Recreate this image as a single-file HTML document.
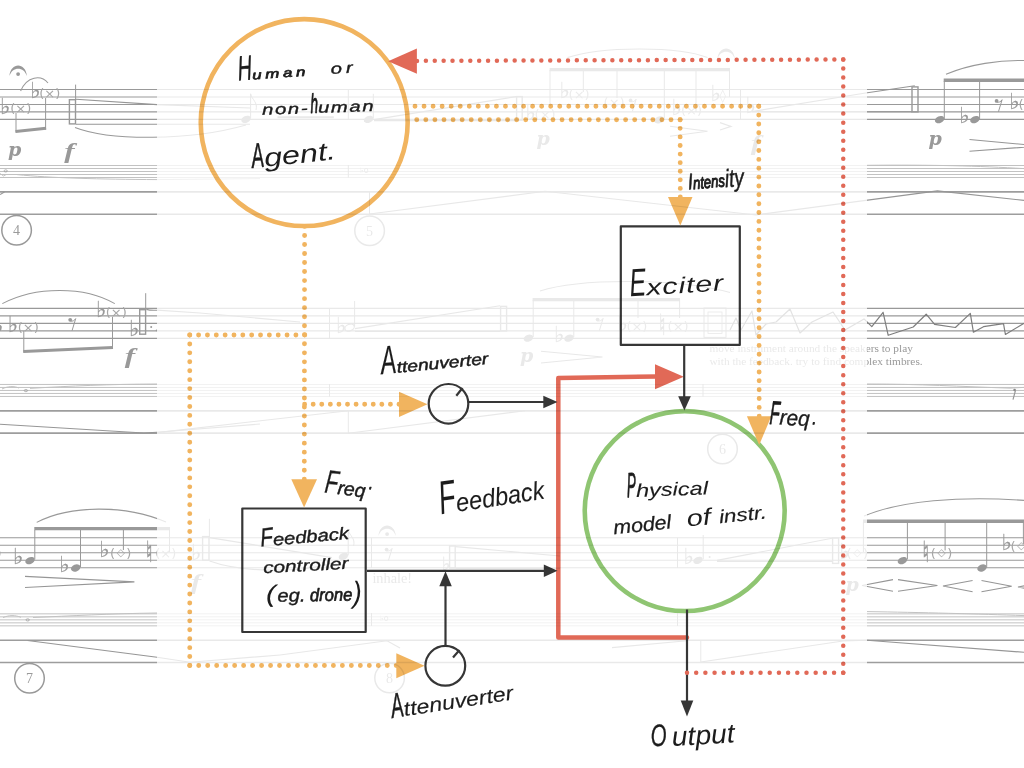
<!DOCTYPE html>
<html lang="en">
<head>
<meta charset="utf-8">
<title>Feedback instrument diagram</title>
<style>
html,body{margin:0;padding:0;background:#fff;}
body{width:1024px;height:768px;overflow:hidden;position:relative;font-family:"Liberation Sans",sans-serif;}
svg{position:absolute;left:0;top:0;display:block;will-change:transform;}
.st{stroke:#999;stroke-width:1.1;fill:none;}
.sm{stroke:#c2c2c2;stroke-width:1;fill:none;}
.ln{stroke:#9d9d9d;stroke-width:1.6;fill:none;}
.thin{stroke:#969696;stroke-width:1.15;fill:none;}
.slur{stroke:#999;stroke-width:1.05;fill:none;}
.stem{stroke:#999;stroke-width:1;fill:none;}
.beam{stroke:#999;stroke-width:3;fill:none;}
.nh{fill:#999;}
.dyn{font-family:"DejaVu Serif","Liberation Serif",serif;font-style:italic;font-weight:bold;font-size:19px;fill:#999;}
.dynf{font-family:"Liberation Serif",serif;font-style:italic;font-weight:bold;font-size:21.5px;fill:#999;}
.acc{font-family:"DejaVu Sans",sans-serif;font-size:22px;fill:#999;stroke:#999;stroke-width:0.25;}
.nat{font-family:"DejaVu Sans",sans-serif;font-size:29px;fill:#999;stroke:#999;stroke-width:0.5;}
.fer{fill:#999;stroke:none;}
.par{font-family:"DejaVu Sans",sans-serif;font-size:13px;fill:#a6a6a6;}
.num{font-family:"Liberation Serif",serif;font-size:14px;fill:#9a9a9a;text-anchor:middle;}
.txt{font-family:"Liberation Serif",serif;font-size:11.35px;fill:#999;}
.hw{font-family:"Liberation Sans",sans-serif;font-style:italic;fill:#1c1c1c;stroke:#1c1c1c;stroke-width:0.15;stroke-linejoin:round;}
.blk{stroke:#363636;stroke-width:2.2;fill:none;stroke-linejoin:round;}
.od{stroke:#f1b45f;stroke-width:4.9;stroke-linecap:round;fill:none;}
.of{fill:#f1b45f;}
.rd{stroke:#e16957;stroke-width:4.5;stroke-linecap:round;fill:none;}
.rf{fill:#e16957;}
</style>
</head>
<body>
<svg id="score" width="1024" height="768" viewBox="0 0 1024 768">
<path class="st" d="M0 89.45 H1024M0 96.94 H1024M0 104.43 H1024M0 111.92 H1024M0 119.41 H1024"/>
<path class="st" d="M0 308.40 H1024M0 315.89 H1024M0 323.38 H1024M0 330.87 H1024M0 338.36 H1024"/>
<path class="st" d="M0 537.80 H1024M0 545.29 H1024M0 552.78 H1024M0 560.27 H1024M0 567.76 H1024"/>
<path class="sm" d="M0 165.50 H1024M0 168.50 H1024M0 171.50 H1024M0 174.50 H1024M0 177.50 H1024"/>
<path class="sm" d="M0 384.45 H1024M0 387.45 H1024M0 390.45 H1024M0 393.45 H1024M0 396.45 H1024"/>
<path class="sm" d="M0 613.85 H1024M0 616.85 H1024M0 619.85 H1024M0 622.85 H1024M0 625.85 H1024"/>
<path class="ln" d="M0 191.90H1024M0 214.20H1024M0 410.85H1024M0 433.15H1024M0 640.25H1024M0 662.55H1024"/>
<!-- ===== left strip, system 1 ===== -->
<path class="fer" d="M9.4 76.0 C10.6 62.0 25.7 62.0 26.9 76.0 C24.0 66.2 12.3 66.2 9.4 76.0Z"/>
<circle class="nh" cx="18.1" cy="74.1" r="1.9"/>
<path class="slur" d="M20.6 91 C27 76 41 74.5 48 83"/>
<text class="acc" x="0" y="113.5">♭</text><text class="par" x="10.3" y="113.0">(×)</text>
<text class="acc" x="30.3" y="97.6">♭</text><text class="par" x="39.3" y="97.8">(×)</text>
<path class="stem" d="M16 113 V132.5M45.6 98 V129.5"/>
<path class="beam" d="M15.5 131.6 L46.1 128.2"/>
<rect x="69.4" y="99.7" width="6.1" height="24.2" fill="none" stroke="#999" stroke-width="1.4"/>
<path class="stem" d="M75.6 84.6 V100"/>
<path class="thin" d="M76 99.2 L157 104.6 L250 108 M76 124.2 H250"/>
<path class="slur" d="M75 127.4 C110 141 190 141 246 125"/>
<text class="dyn" x="8" y="155.6">p</text>
<text class="dynf" transform="translate(64.2 157.6) scale(1.45 1)">f</text>
<ellipse cx="5.7" cy="170.9" rx="1.6" ry="1.1" fill="none" stroke="#999" stroke-width="0.7"/>
<path class="sm" d="M0 173.5 L3.5 176 L6 174.6 M17 174.6 C50 178 100 179.3 157 179.6 L260 178.6"/>
<path class="thin" d="M0 194.6 L4.5 191.9"/>
<circle cx="16.6" cy="230.2" r="14.8" fill="none" stroke="#999" stroke-width="1.5"/>
<text class="num" x="16.4" y="235">4</text>
<!-- ===== left strip, system 2 ===== -->
<path class="slur" d="M2.3 303.6 C35 286 85 286 114.8 303.6"/>
<text class="acc" x="-7" y="332.6">♭</text>
<text class="acc" x="7.8" y="331.6">♭</text><text class="par" x="17.7" y="331.6">(×)</text>
<path class="stem" d="M23.8 331 V352.5M112.5 316.8 V348.6"/>
<path class="beam" d="M23.3 351.4 L113 347.4"/>
<circle class="nh" cx="70.2" cy="319.8" r="1.9"/>
<path class="stem" d="M70.5 321 C72.5 321.6 74.5 320.6 75.7 318.6 L72 330.8"/>
<text class="acc" x="96" y="316.6">♭</text><text class="par" x="105.8" y="316.6">(×)</text>
<text class="acc" x="128.9" y="335.6">♭</text>
<rect x="139.7" y="309.7" width="5.9" height="24.5" fill="none" stroke="#999" stroke-width="1.4"/>
<path class="stem" d="M145.7 293.2 V310"/>
<circle class="nh" cx="151.2" cy="326.9" r="1"/><circle class="nh" cx="156.6" cy="330.4" r="0.9"/>
<path class="thin" d="M146.4 309.4 C150 310.5 153 310.4 157 310.2 L200 313 L300 322"/>
<text class="dynf" transform="translate(124.8 363.1) scale(1.45 1)">f</text>
<ellipse cx="25.9" cy="390.6" rx="1.7" ry="1.1" fill="none" stroke="#999" stroke-width="0.7"/>
<path class="sm" d="M2 389 C8 386 14 386 19 388 M30 388.4 C70 386 110 384.2 157 384"/>
<path class="thin" d="M0 424.2 L143.8 433 L157 432.2 L260 424"/>
<!-- ===== left strip, system 3 ===== -->
<path class="slur" d="M36.7 522.4 C70 505 125 504.5 166 522"/>
<path class="beam" style="stroke-width:3.4" d="M34.3 528.6 H170"/>
<path class="stem" d="M34.8 530 V559.5M80.5 530 V567M123.4 530 V550M169.5 530 V552"/>
<text class="acc" x="13" y="564">♭</text>
<ellipse class="nh" cx="30" cy="560.6" rx="4.9" ry="3.4" transform="rotate(-22 30 560.6)"/>
<text class="acc" x="59.3" y="571.6">♭</text>
<ellipse class="nh" cx="75.7" cy="568" rx="4.9" ry="3.4" transform="rotate(-22 75.7 568)"/>
<text class="acc" x="99.3" y="557">♭</text><text class="par" x="110" y="558.4">(<tspan font-size="10.5" dx="1.6" dy="-2.2">◇</tspan><tspan dx="1.6" dy="2.2">)</tspan></text>
<text class="nat" x="146" y="562.0" textLength="6.6" lengthAdjust="spacingAndGlyphs">♮</text><text class="par" x="155.3" y="558.4">(×)</text>
<text class="par" x="-3.6" y="558.4">)</text>
<path class="thin" d="M25 576.4 L134.4 581.9 L25 587.5"/>
<ellipse cx="27.7" cy="619.9" rx="1.7" ry="1.1" fill="none" stroke="#999" stroke-width="0.7"/>
<path class="sm" d="M3 617.6 C9 615 15 615 21 617.3 M33 617.5 C70 616 110 613.6 157 613"/>
<path class="thin" d="M27.5 640.5 L157 657.3 L190 662.2 L280 655"/>
<circle cx="29.5" cy="678.3" r="14.8" fill="none" stroke="#999" stroke-width="1.5"/>
<text class="num" x="29.5" y="683.1">7</text>
<!-- ===== middle (veiled) region, system 1 ===== -->
<ellipse class="nh" cx="246" cy="119.4" rx="4.9" ry="3.4" transform="rotate(-22 246 119.4)"/>
<path class="stem" d="M250.6 93.8 V118.5 M250.6 93.8 C252 100 258 102 256 110"/>
<path class="beam" style="stroke-width:2" d="M277.5 117.2 H333.8"/>
<path class="stem" d="M348.3 89.5 V119.4 M348.3 165 V177.5 M369.5 191.7 V214"/>
<ellipse class="nh" cx="368.6" cy="119.4" rx="4.9" ry="3.4" transform="rotate(-22 368.6 119.4)"/>
<path class="stem" d="M373.3 93.8 V118.5"/>
<path class="thin" d="M374 119.6 L516 96.6 M374 120.6 H516 M369.5 214 L545 191.3 L756 215"/>
<text class="par" x="360" y="173" style="font-size:8px">♭o</text>
<circle cx="369.6" cy="230.8" r="14.8" fill="none" stroke="#999" stroke-width="1.5"/>
<text class="num" x="369.6" y="235.6">5</text>
<rect x="516.6" y="96.6" width="5.6" height="23.6" fill="none" stroke="#999" stroke-width="1.4"/>
<text class="acc" x="525.4" y="119.6">♭</text><text class="par" x="534.6" y="119.2">(×)</text>
<path class="slur" d="M567.5 57.6 C600 46 680 46 707.5 57.6"/>
<path class="beam" style="stroke-width:3.4" d="M549.6 69.6 H730"/>
<path class="stem" d="M550 70 V106 M583.3 70 V92 M617 70 V98 M664.3 70 V119 M696 70 V112 M729.5 70 V97"/>
<text class="acc" x="559.4" y="97.6">♭</text><text class="par" x="568.6" y="98.6">(×)</text>
<text class="par" x="603.6" y="107.0">(×)</text>
<circle class="nh" cx="630.6" cy="100.4" r="1.9"/>
<path class="stem" d="M630.9 101.6 C632.9 102.2 634.9 101.2 636.1 99.2 L632.4 111.4"/>
<ellipse class="nh" cx="659" cy="119.8" rx="4.9" ry="3.4" transform="rotate(-22 659 119.8)"/>
<text class="acc" x="671.6" y="115">♭</text><text class="par" x="681" y="115.0">(×)</text>
<text class="acc" x="710.4" y="101">♭</text><text class="par" x="719.6" y="100" style="font-size:13px">◊</text>
<path class="fer" d="M717.4 59.0 C718.6 45.0 733.7 45.0 734.9 59.0 C732.0 49.2 720.3 49.2 717.4 59.0Z"/>
<path class="stem" d="M740.5 89.5 V119.4"/>
<text class="acc" x="745.6" y="112.6">♭</text>
<path class="thin" d="M670 126.3 L707.5 131.3 L670 136.3 M720 122.6 L731 126.4 L720 130"/>
<text class="dyn" x="536.4" y="145.4">p</text>
<text class="dynf" transform="translate(750.8 149.6) scale(1.45 1)">f</text>
<!-- ===== middle region, system 2 ===== -->
<path class="stem" d="M329.5 308.4 V338.4 M329.5 384 V396.6 M348.3 410.7 V433.2 M703 384 V396.6"/>
<text class="acc" x="336" y="333">♭</text>
<ellipse cx="349.6" cy="327.6" rx="4.9" ry="3.3" transform="rotate(-22 349.6 327.6)" fill="none" stroke="#999" stroke-width="1.2"/>
<path class="stem" d="M354.6 301 V326.6"/>
<path class="thin" d="M355 328.6 L500 305.8 M355 331.3 H500 M157 432.6 L348.3 410.7 M348.3 433.2 L525 410.7"/>
<rect x="500.6" y="306.4" width="6" height="24.6" fill="none" stroke="#999" stroke-width="1.4"/>
<path class="slur" d="M540 291 C580 278 680 278 730 292.6"/>
<path class="beam" style="stroke-width:3.4" d="M532.6 299.6 H680"/>
<path class="stem" d="M533.2 300 V337 M573.8 300 V337 M638 300 V318 M679.6 300 V318"/>
<ellipse class="nh" cx="528.4" cy="338.2" rx="4.9" ry="3.4" transform="rotate(-22 528.4 338.2)"/>
<text class="acc" x="554" y="341.6">♭</text>
<ellipse class="nh" cx="569" cy="338.2" rx="4.9" ry="3.4" transform="rotate(-22 569 338.2)"/>
<circle class="nh" cx="597.6" cy="319.6" r="1.9"/>
<path class="stem" d="M597.9 320.8 C599.9 321.4 601.9 320.4 603.1 318.4 L599.4 330.6"/>
<text class="acc" x="617.6" y="331">♭</text><text class="par" x="626.4" y="331.2">(×)</text>
<text class="nat" x="659" y="335.4" textLength="6.6" lengthAdjust="spacingAndGlyphs">♮</text><text class="par" x="667.6" y="331.2">(×)</text>
<rect x="704" y="308" width="22" height="29.4" fill="none" stroke="#999" stroke-width="1"/>
<rect x="708" y="312" width="14" height="21.4" fill="none" stroke="#999" stroke-width="0.8"/>
<text class="dyn" x="520" y="361.6">p</text>
<path class="thin" d="M541 351.3 L602.5 357 L541 363"/>
<circle cx="722.5" cy="449" r="14.8" fill="none" stroke="#999" stroke-width="1.5"/>
<text class="num" x="722.5" y="453.8">6</text>
<!-- ===== middle region, system 3 ===== -->
<text class="acc" x="191" y="560">♭</text>
<rect x="202.6" y="536.6" width="6.4" height="23.6" fill="none" stroke="#999" stroke-width="1.4"/>
<path class="stem" d="M209.4 518.8 V537"/>
<path class="thin" d="M209.6 537.6 L332 557.6 M209.6 561 C240 572 300 574 336 562"/>
<text class="dynf" transform="translate(190.8 589.2) scale(1.45 1)">f</text>
<ellipse class="nh" cx="343.4" cy="556.4" rx="4.9" ry="3.4" transform="rotate(-22 343.4 556.4)"/>
<path class="stem" d="M348.2 530 V555.4 M348.2 530 C349.6 536 355.6 538 353.6 546 M371.5 537.8 V567.8 M371.5 613 V626 M677.5 537.8 V567.8 M677.5 613 V626 M700.8 640.3 V662.5"/>
<path class="fer" d="M378.4 536.0 C379.6 522.0 394.7 522.0 395.9 536.0 C393.0 526.2 381.3 526.2 378.4 536.0Z"/>
<circle class="nh" cx="387.1" cy="534.1" r="1.9"/>
<circle class="nh" cx="386.6" cy="549.6" r="1.9"/>
<path class="stem" d="M386.9 550.8 C388.9 551.4 390.9 550.4 392.1 548.4 L388.4 560.6"/>
<text class="txt" x="372.4" y="583" style="font-size:14.3px">inhale!</text>
<text class="acc" x="442" y="570" style="font-size:18px">♭</text>
<rect x="449.6" y="546" width="5.6" height="22" fill="none" stroke="#999" stroke-width="1.4"/>
<path class="thin" d="M455.6 546.6 L560 556 M455.6 568.4 H560"/>
<text class="par" x="380" y="620.6" style="font-size:8px">♭o</text>
<circle cx="389.6" cy="678" r="14.8" fill="none" stroke="#999" stroke-width="1.5"/>
<text class="num" x="389.6" y="682.8">8</text>
<path class="thin" d="M280 655 L387 640.8 L400 648 M612 647.6 L687 640.8 M700.8 662 L843 641 L867 640.3"/>
<text class="acc" x="683.6" y="563.6">♭</text>
<ellipse class="nh" cx="698" cy="560.4" rx="4.9" ry="3.4" transform="rotate(-22 698 560.4)"/>
<path class="stem" d="M703.2 535 V559.4"/>
<circle class="nh" cx="709.6" cy="557" r="1"/>
<path class="thin" d="M717 560.4 L832 538.2 M717 561.4 H832"/>
<rect x="832.6" y="538" width="6" height="25.4" fill="none" stroke="#999" stroke-width="1.4"/>
<text class="acc" x="839.6" y="559">♭</text>
<!-- ===== right strip, system 1 ===== -->
<path class="thin" d="M752 111.6 L864 93.2 L914.8 85.7 M752 111.7 H912"/>
<rect x="912" y="86.9" width="6" height="25" fill="none" stroke="#999" stroke-width="1.4"/>
<path class="slur" d="M946 74.3 C970 64 1000 60 1024 60.6"/>
<path class="beam" style="stroke-width:3.4" d="M943.7 80.3 H1024"/>
<path class="stem" d="M944.3 81 V119M979.6 81 V119"/>
<ellipse class="nh" cx="939.6" cy="119.6" rx="4.9" ry="3.4" transform="rotate(-22 939.6 119.6)"/>
<text class="acc" x="959.2" y="122.8">♭</text>
<ellipse class="nh" cx="974.9" cy="119.6" rx="4.9" ry="3.4" transform="rotate(-22 974.9 119.6)"/>
<circle class="nh" cx="996.6" cy="100.9" r="1.9"/>
<path class="stem" d="M996.9 102.1 C998.9 102.7 1000.9 101.7 1002.1 99.7 L998.4 111.9"/>
<text class="acc" x="1009.2" y="108.6">♭</text><text class="par" x="1018.6" y="108.6">(×)</text>
<text class="dyn" x="928.6" y="145.4">p</text>
<path class="thin" d="M969.5 139.5 L1040 146 L969.5 151.3"/>
<path class="thin" d="M756 215 L937.4 190.9 L1024 200.4"/>
<path class="sm" d="M867 165.3 C930 164.6 980 166 1024 168.6"/>
<!-- ===== right strip, system 2 ===== -->
<path d="M730 330 L736 318 L741 330 L752 311 L756 335 L766 324 L776 322 L790 309 L800 333 L812 322 L833 312 L845 330 L864 318.9 L871.8 326.7 L883.1 312.3 L888.2 335.3 L913.2 327 L926.2 314.2 L934.6 324.4 L955.4 327.5 L970.3 313.4 L973.4 332.2 L983.5 326.7 L1003.5 323.6 L1005.4 334.5 L1024 323.3" fill="none" stroke="#7e7e7e" stroke-width="1.2" stroke-linejoin="round"/>
<text class="txt" x="709.4" y="352.3">move instrument around the speakers to play</text>
<text class="txt" x="709.4" y="364.7">with the feedback. try to find complex timbres.</text>
<path class="sm" d="M867 384 C920 384 960 386.5 1010 388.2 L1024 387.4"/>
<circle class="nh" cx="1014.6" cy="390" r="1.3" style="fill:#888"/>
<path class="thin" d="M1015.6 390 L1013 399.6"/>
<!-- ===== right strip, system 3 ===== -->
<path class="slur" d="M864 516 C900 501 960 495.6 1024 500.4"/>
<path class="beam" style="stroke-width:3.4" d="M863 521.3 H1024"/>
<path class="stem" d="M863.4 522 V552M907.4 522 V559.5M945.1 522 V550.4M986.7 522 V567.5M1023.4 522 V544"/>
<text class="par" x="846.6" y="558.4">(<tspan font-size="10.5" dx="1.6" dy="-2.2">◇</tspan><tspan dx="1.6" dy="2.2">)</tspan></text>
<ellipse class="nh" cx="902.4" cy="560.6" rx="4.9" ry="3.4" transform="rotate(-22 902.4 560.6)"/>
<text class="nat" x="922.6" y="562.0" textLength="6.6" lengthAdjust="spacingAndGlyphs">♮</text><text class="par" x="930.8" y="558.4">(<tspan font-size="10.5" dx="1.6" dy="-2.2">◇</tspan><tspan dx="1.6" dy="2.2">)</tspan></text>
<ellipse class="nh" cx="982" cy="568" rx="4.9" ry="3.4" transform="rotate(-22 982 568)"/>
<text class="acc" x="1001.6" y="549.6">♭</text><text class="par" x="1010.6" y="551.0">(<tspan font-size="10.5" dx="1.6" dy="-2.2">◇</tspan><tspan dx="1.6" dy="2.2">)</tspan></text>
<text class="dyn" x="845.6" y="590.6">p</text>
<path class="thin" d="M893 579.6 L862 585.5 L893 591.3 M898 579.6 L937.4 585.5 L898 591.3 M972.6 580.5 L943 586 L972.6 591.7 M981.5 580.5 L1011.7 586.3 L981.5 591.7 M1030 584.6 L1018 587 L1030 589.4"/>
<path class="sm" d="M867 611.6 C920 612.4 980 614 1024 615.6"/>
<path class="thin" d="M867 640.3 L1024 652.3"/>

</svg>
<div id="veil" style="position:absolute;left:157px;top:0;width:710px;height:768px;background:rgba(255,255,255,0.78);"></div>
<svg id="diagram" style="mix-blend-mode:multiply" width="1024" height="768" viewBox="0 0 1024 768">
<!-- agent -->
<circle cx="304.2" cy="122.6" r="103.45" fill="none" stroke="#f1b45f" stroke-width="4.6"/>
<!-- physical model -->
<circle cx="684.7" cy="511.1" r="99.95" fill="none" stroke="#8fc572" stroke-width="4.6"/>
<!-- feedback loop (red solid) -->
<path d="M687 637.5 H558.3 V378 L657 376.4" fill="none" stroke="#e16957" stroke-width="4.5" stroke-linejoin="round" stroke-linecap="round"/>
<polygon class="rf" points="655,364.3 683.8,376.8 655,389.3"/>
<!-- boxes -->
<rect class="blk" x="620.8" y="226.4" width="119" height="118.5"/>
<rect class="blk" x="242.3" y="508.5" width="123.4" height="123.5"/>
<!-- knobs -->
<circle class="blk" cx="448.5" cy="403.8" r="19.8"/>
<path class="blk" d="M456.3 395.8 L462.5 388"/>
<circle class="blk" cx="445.3" cy="665.8" r="19.9"/>
<path class="blk" d="M453 657.5 L459.5 650"/>
<!-- signal arrows -->
<path class="blk" d="M469 402 H546"/>
<polygon fill="#363636" points="543.3,395.7 557.5,402 543.3,408.3"/>
<path class="blk" d="M367 570.8 H546"/>
<polygon fill="#363636" points="543.8,564.5 557.5,570.8 543.8,577"/>
<path class="blk" d="M445.5 645.5 V585"/>
<polygon fill="#363636" points="439.3,586.3 445.5,571.3 451.8,586.3"/>
<path class="blk" d="M684.2 346 V398"/>
<polygon fill="#363636" points="678.2,396.3 684.4,410.5 690.8,396.3"/>
<path class="blk" d="M687 609.5 V702"/>
<polygon fill="#363636" points="680.7,700.5 687,716.5 693.3,700.5"/>
<!-- dotted control connections (orange) -->
<g id="control-lines">
<path class="od" stroke-dasharray="0 9.0461" d="M415.00 106.25 L758.80 106.25"/>
<path class="od" stroke-dasharray="0 8.8572" d="M758.75 106.25 L759.20 416.30"/>
<path class="od" stroke-dasharray="0 9.0810" d="M416.75 119.75 L680.15 119.75"/>
<path class="od" stroke-dasharray="0 8.5834" d="M680.10 119.75 L680.30 197.05"/>
<path class="od" stroke-dasharray="0 9.0304" d="M304.60 226.40 L304.30 479.30"/>
<path class="od" stroke-dasharray="0 8.5818" d="M304.60 404.25 L399.05 404.25"/>
<path class="od" stroke-dasharray="0 8.8462" d="M304.75 335.00 L189.70 335.00"/>
<path class="od" stroke-dasharray="0 8.9324" d="M189.75 335.00 L189.75 665.55"/>
<path class="od" stroke-dasharray="0 8.9783" d="M189.75 665.50 L396.30 665.50"/>
<polygon class="of" points="746.9,416.2 771.3,416.2 759.2,444.9"/>
<polygon class="of" points="668,197 692.5,197 680.3,225.5"/>
<polygon class="of" points="291.3,479.3 317,479.3 304.1,507.5"/>
<polygon class="of" points="399,391.8 427.5,404.3 399,416.9"/>
<polygon class="of" points="396.3,653.3 424.5,665.8 396.3,678.3"/>
</g>
<!-- dotted output-to-agent connection (red) -->
<g id="listen-line">
<path class="rd" stroke-dasharray="0 9.1912" d="M687.00 672.75 L843.30 672.75"/>
<path class="rd" stroke-dasharray="0 9.0184" d="M843.25 672.75 L843.25 59.45"/>
<path class="rd" stroke-dasharray="0 8.8803" d="M843.25 59.50 L416.95 60.90"/>
<polygon class="rf" points="416.9,48.5 388.1,61.2 416.9,73.8"/>
</g>
<!-- handwritten labels -->
<g class="hw">
<text xml:space="preserve" transform="translate(238.5 80.5) rotate(-4.0)"><tspan font-size="35" textLength="14" lengthAdjust="spacingAndGlyphs" stroke-width="0.45">H</tspan><tspan font-size="12.5" letter-spacing="2.74" textLength="57" lengthAdjust="spacingAndGlyphs" stroke-width="0.67">uman</tspan><tspan font-size="15" letter-spacing="3.05" textLength="36" lengthAdjust="spacingAndGlyphs" stroke-width="0.38" dx="12"> or</tspan></text>
<text xml:space="preserve" transform="translate(262.3 114.8) rotate(-2.0)"><tspan font-size="15" letter-spacing="1.20" textLength="47" lengthAdjust="spacingAndGlyphs" stroke-width="0.38">non-</tspan><tspan font-size="27" textLength="7.5" lengthAdjust="spacingAndGlyphs" stroke-width="0.95" dx="1.5">h</tspan><tspan font-size="15" letter-spacing="1.17" textLength="57" lengthAdjust="spacingAndGlyphs" stroke-width="0.38">uman</tspan></text>
<text xml:space="preserve" transform="translate(252.5 168.0) rotate(-6.0)"><tspan font-size="35" textLength="12.5" lengthAdjust="spacingAndGlyphs" stroke-width="0.51">A</tspan><tspan font-size="25.5" textLength="72" lengthAdjust="spacingAndGlyphs" stroke-width="0.00">gent.</tspan></text>
<text xml:space="preserve" transform="translate(688.5 189.6) rotate(-5.0)"><tspan font-size="22.5" textLength="5" lengthAdjust="spacingAndGlyphs" stroke-width="0.57">I</tspan><tspan font-size="17" textLength="32" lengthAdjust="spacingAndGlyphs" stroke-width="0.99">ntens</tspan><tspan font-size="25" textLength="19" lengthAdjust="spacingAndGlyphs" stroke-width="0.49" dy="1">ity</tspan></text>
<text xml:space="preserve" transform="translate(630.3 296.2) rotate(-3.5)"><tspan font-size="39" textLength="16.5" lengthAdjust="spacingAndGlyphs" stroke-width="0.00">E</tspan><tspan font-size="22.5" letter-spacing="0.67" textLength="78" lengthAdjust="spacingAndGlyphs" stroke-width="0.00">xciter</tspan></text>
<text xml:space="preserve" transform="translate(381.7 374.2) rotate(-5.5)"><tspan font-size="40" textLength="15.5" lengthAdjust="spacingAndGlyphs" stroke-width="0.13">A</tspan><tspan font-size="16" textLength="92" lengthAdjust="spacingAndGlyphs" stroke-width="0.46">ttenuverter</tspan></text>
<text xml:space="preserve" transform="translate(769.3 424.0) rotate(3.0)"><tspan font-size="33" textLength="10" lengthAdjust="spacingAndGlyphs" stroke-width="0.71">F</tspan><tspan font-size="21.5" textLength="30" lengthAdjust="spacingAndGlyphs" stroke-width="0.34">req</tspan><tspan font-size="18" textLength="4" lengthAdjust="spacingAndGlyphs" stroke-width="0.88" dx="3" dy="-2">.</tspan></text>
<text xml:space="preserve" transform="translate(324.0 492.5) rotate(7.0)"><tspan font-size="33" textLength="13" lengthAdjust="spacingAndGlyphs" stroke-width="0.29">F</tspan><tspan font-size="19" textLength="28" lengthAdjust="spacingAndGlyphs" stroke-width="0.45">req</tspan><tspan font-size="19" textLength="4" lengthAdjust="spacingAndGlyphs" stroke-width="0.88" dx="3" dy="-9">.</tspan></text>
<text xml:space="preserve" transform="translate(441.0 514.2) rotate(-8.5)"><tspan font-size="47" textLength="16.5" lengthAdjust="spacingAndGlyphs" stroke-width="0.00">F</tspan><tspan font-size="25.5" textLength="89" lengthAdjust="spacingAndGlyphs" stroke-width="0.10">eedback</tspan></text>
<text xml:space="preserve" transform="translate(627.2 497.2) rotate(-2.0)"><tspan font-size="35" textLength="9" lengthAdjust="spacingAndGlyphs" stroke-width="0.95">P</tspan><tspan font-size="18.5" textLength="72" lengthAdjust="spacingAndGlyphs" stroke-width="0.10">hysical</tspan></text>
<text xml:space="preserve" transform="translate(614.0 534.2) rotate(-5.9)"><tspan font-size="19.5" textLength="58" lengthAdjust="spacingAndGlyphs" stroke-width="0.29">model</tspan><tspan font-size="23" textLength="32" lengthAdjust="spacingAndGlyphs" stroke-width="0.00" dx="8"> of</tspan><tspan font-size="18.5" textLength="54" lengthAdjust="spacingAndGlyphs" stroke-width="0.19" dx="2"> instr.</tspan></text>
<text xml:space="preserve" transform="translate(261.0 546.6) rotate(-5.0)"><tspan font-size="26" textLength="12.5" lengthAdjust="spacingAndGlyphs" stroke-width="0.36">F</tspan><tspan font-size="17" textLength="76" lengthAdjust="spacingAndGlyphs" stroke-width="0.39">eedback</tspan></text>
<text xml:space="preserve" transform="translate(263.4 573.2) rotate(-3.0)"><tspan font-size="16.3" textLength="85.5" lengthAdjust="spacingAndGlyphs" stroke-width="0.33">controller</tspan></text>
<text xml:space="preserve" transform="translate(266.0 602.0) rotate(-1.0)"><tspan font-size="24" textLength="10" lengthAdjust="spacingAndGlyphs" stroke-width="0.00">(</tspan><tspan font-size="18" textLength="28" lengthAdjust="spacingAndGlyphs" stroke-width="0.39" dx="1.5">eg.</tspan><tspan font-size="18" textLength="47" lengthAdjust="spacingAndGlyphs" stroke-width="0.69"> drone</tspan><tspan font-size="30" textLength="9" lengthAdjust="spacingAndGlyphs" stroke-width="0.00" dx="0.5" dy="2">)</tspan></text>
<text xml:space="preserve" transform="translate(392.5 718.0) rotate(-8.7)"><tspan font-size="35" textLength="12.5" lengthAdjust="spacingAndGlyphs" stroke-width="0.51">A</tspan><tspan font-size="20" textLength="110.5" lengthAdjust="spacingAndGlyphs" stroke-width="0.14">ttenuverter</tspan></text>
<text xml:space="preserve" transform="translate(651.3 746.4) rotate(-3.5)"><tspan font-size="31" textLength="16" lengthAdjust="spacingAndGlyphs" stroke-width="0.35">O</tspan><tspan font-size="27" textLength="63" lengthAdjust="spacingAndGlyphs" stroke-width="0.00" dx="5" dy="1">utput</tspan></text>
</g>

</svg>
</body>
</html>
